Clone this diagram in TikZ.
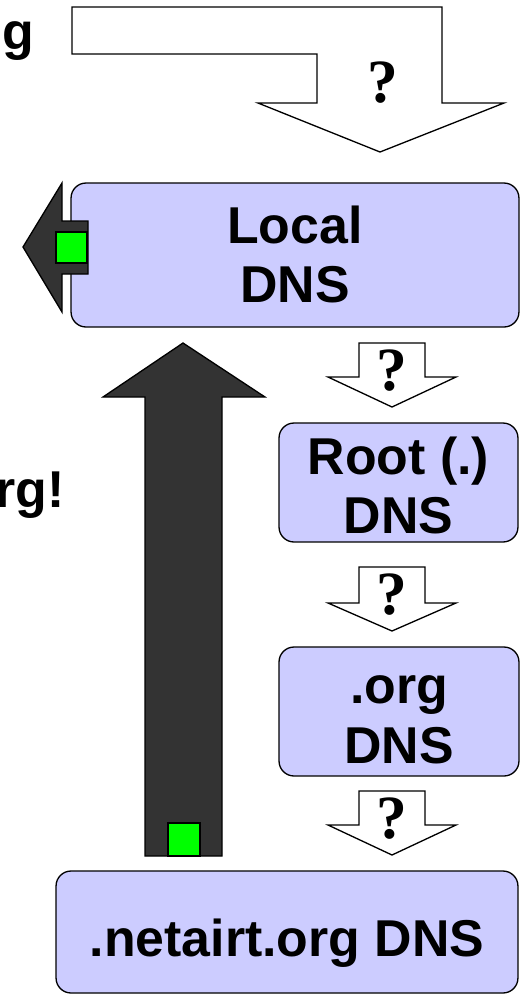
\documentclass[tikz,border=0pt]{standalone}
\usepackage{fontspec}
\setmainfont{Liberation Sans}
\newfontfamily\qmarkfont{Liberation Serif}
\usepackage{xcolor}
\usepackage{tikz}
\usetikzlibrary{positioning}
\definecolor{dnsfill}{HTML}{CCCCFF}
\definecolor{replyfill}{HTML}{333333}
\definecolor{cachegreen}{HTML}{00FF00}

\begin{document}
\begin{tikzpicture}[x=0.02cm, y=-0.02cm, line width=0.75pt,
    server/.style={rectangle, rounded corners=0.3cm, draw=black, fill=dnsfill, align=center, inner sep=0pt, text depth=0pt, font=\fontsize{29.5}{34}\selectfont\bfseries},
    query/.style={draw=black, fill=white},
    reply/.style={draw=black, fill=replyfill},
    cached/.style={draw=black, fill=cachegreen},
    qmark/.style={inner sep=0pt, font=\qmarkfont\fontsize{35}{35}\selectfont\bfseries},
    cuttext/.style={inner sep=0pt, anchor=base east, font=\fontsize{29.5}{34}\selectfont\bfseries}]
    \useasboundingbox (0,0) rectangle (520,995);
    \clip (0,0) rectangle (520,995);
    \node[cuttext] (asked) at (34.5,49) {g};
    \node[cuttext] (answer) at (65,507) {rg!};
    \draw[query] (72,7) -- (442,7) -- (442,103) -- (504,103) -- (380,152) -- (258,103) -- (317,103) -- (317,54) -- (72,54) -- cycle;
    \node[qmark] (q0) at (383,83) {?};
    \node[server, minimum width=8.96cm, minimum height=2.88cm, text height=1.92cm] (local) at (295,255) {Local\\DNS};
    \draw[reply] (23,247) -- (62,183) -- (62,221) -- (88,221) -- (88,274) -- (62,274) -- (62,312) -- cycle;
    \draw[cached] (56,232) rectangle (87,263);
    \node[server, minimum width=4.78cm, minimum height=2.38cm, text height=2.06cm] (root) at (398.5,482.5) {Root (.)\\DNS};
    \node[server, minimum width=4.8cm, minimum height=2.58cm, text height=2.06cm] (org) at (399,711.5) {.org\\DNS};
    \node[server, minimum width=9.24cm, minimum height=2.44cm, text height=0.96cm] (netairt) at (287,932) {.netairt.org DNS};
    \foreach \top/\neck [count=\i] in {343/377, 567/603, 791/825} {
      \draw[query] (359,\top) -- (425,\top) -- (425,\neck) -- (456,\neck) -- (392,\top+64) -- (328,\neck) -- (359,\neck) -- cycle;
      \node[qmark] (q\i) at (392,\top+28) {?};
    }
    \draw[reply] (183,343) -- (265,397) -- (222,397) -- (222,856) -- (145,856) -- (145,397) -- (103,397) -- cycle;
    \draw[cached] (168,823) rectangle (200,856);
  \end{tikzpicture}
\end{document}
